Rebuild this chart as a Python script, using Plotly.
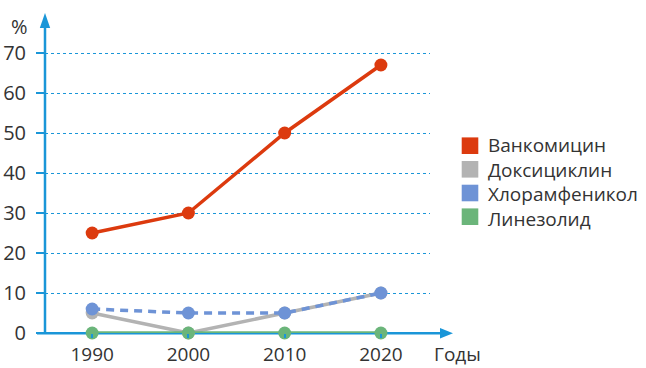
import plotly.graph_objects as go

years = [1990, 2000, 2010, 2020]
vancomycin = [25, 30, 50, 67]
doxycycline = [5, 0, 5, 10]
chloramphenicol = [6, 5, 5, 10]
linezolid = [0, 0, 0, 0]
names = ["Ванкомицин", "Доксициклин", "Хлорамфеникол", "Линезолид"]
colors = ["#DC3A0E", "#B3B3B3", "#6E93D6", "#6BB57A"]
y_ticks = [0, 10, 20, 30, 40, 50, 60, 70]

FONT = "Open Sans, sans-serif"
FS = 20
TXT = "#333333"
AX = "#1A96D8"

W, H = 646, 368
L, R, T, B = 45, 216, 13, 35
PW, PH = W - L - R, H - T - B

def px(x):
    return (x - L) / PW

def py(y):
    return (H - B - y) / PH

fig = go.Figure()

series = [vancomycin, doxycycline, chloramphenicol, linezolid]
dashes = ["solid", "solid", "8px,6px", "solid"]
order = [1, 2, 3, 0]
for i in order:
    fig.add_trace(go.Scatter(
        x=years, y=series[i], mode="lines+markers",
        line=dict(color=colors[i], width=3.5, dash=dashes[i]),
        marker=dict(color=colors[i], size=13),
        showlegend=False, cliponaxis=False, hoverinfo="skip"))

shapes = [
    # x axis line
    dict(type="line", xref="paper", yref="paper",
         x0=px(37), x1=px(442), y0=py(333.3), y1=py(333.3),
         line=dict(color=AX, width=2.5), layer="below"),
    dict(type="path", xref="paper", yref="paper",
         path=f"M {px(453)} {py(333.3)} L {px(440)} {py(328)} L {px(440)} {py(338.6)} Z",
         fillcolor=AX, line=dict(width=0)),
    # y axis line
    dict(type="line", xref="paper", yref="paper",
         x0=px(45), x1=px(45), y0=py(334), y1=py(26),
         line=dict(color=AX, width=2.5), layer="below"),
    dict(type="path", xref="paper", yref="paper",
         path=f"M {px(45)} {py(13)} L {px(39.8)} {py(28)} L {px(50.2)} {py(28)} Z",
         fillcolor=AX, line=dict(width=0)),
]

annotations = [
    dict(text="%", xref="paper", yref="paper", x=px(19.5), y=py(26.5),
         showarrow=False, font=dict(size=FS, color=TXT, family=FONT),
         xanchor="center", yanchor="middle"),
    dict(text="Годы", xref="paper", yref="paper", x=px(432), y=py(354),
         showarrow=False, font=dict(size=19, color=TXT, family=FONT),
         xanchor="left", yanchor="middle"),
]

# manual legend: squares + one multi-line label block
row_y = [145.7, 169.3, 193.0, 216.7]
for i in range(4):
    yc = row_y[i]
    shapes.append(dict(type="rect", xref="paper", yref="paper",
                       x0=px(461.7), x1=px(478.3), y0=py(yc - 8.3), y1=py(yc + 8.3),
                       fillcolor=colors[i], line=dict(width=0)))
annotations.append(dict(text="<br>".join(names), xref="paper", yref="paper",
                        x=px(487), y=py(sum(row_y) / 4 + 1), showarrow=False,
                        font=dict(size=19, color=TXT, family=FONT),
                        xanchor="left", yanchor="middle", align="left",
                        borderpad=0))

fig.update_layout(
    width=W, height=H,
    margin=dict(l=L, r=R, t=T, b=B, pad=0),
    paper_bgcolor="white", plot_bgcolor="white",
    font=dict(family=FONT, color=TXT, size=FS),
    shapes=shapes, annotations=annotations,
    showlegend=False,
    xaxis=dict(range=[1985.1, 2025.1], tickvals=years, showgrid=False,
               zeroline=False, showline=False, ticks="outside",
               ticklen=4, tickwidth=2, tickcolor=AX, automargin=False,
               ticklabelstandoff=0,
               tickfont=dict(size=19, color=TXT, family=FONT)),
    yaxis=dict(range=[0, 80], tickvals=y_ticks, showgrid=True,
               gridcolor=AX, griddash="dot", gridwidth=1,
               zeroline=False, showline=False, ticks="outside",
               ticklen=8, tickwidth=2, tickcolor=AX, automargin=False,
               ticklabelstandoff=6,
               tickfont=dict(size=FS, color=TXT, family=FONT)),
)

fig.write_html("out.html")
